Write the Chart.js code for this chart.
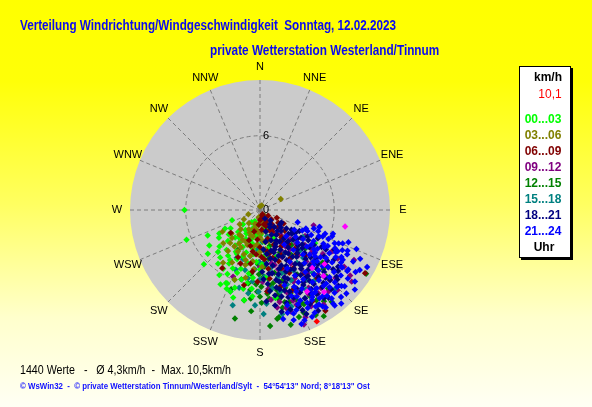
<!DOCTYPE html>
<html><head><meta charset="utf-8">
<script src="https://cdn.jsdelivr.net/npm/chart.js@4"></script>
<style>
html,body{margin:0;padding:0;width:592px;height:407px;overflow:hidden;background:#ffff00;}
#wrap{position:relative;width:592px;height:407px;}
canvas{position:absolute;left:0;top:0;}
.t{position:absolute;white-space:nowrap;font-family:"Liberation Sans",Arial,sans-serif;line-height:1;}
.fit{transform-origin:0 50%;}
.c{transform:translate(-50%,-50%);}
#t1,#t2{font-weight:bold;font-size:14px;color:#0a0af0;}
#legend{position:absolute;left:519px;top:66px;width:50px;height:190px;background:#fff;border:1px solid #000;box-shadow:2px 2px 0 #000;}
.lg{font-weight:bold;font-size:12px;}
#stats{font-size:13px;color:#000;}
#foot{font-size:9px;font-weight:bold;color:#1010ff;}
</style></head>
<body><div id="wrap">
<canvas id="c" width="592" height="407"></canvas>
<div id="t1" class="t fit" style="left:20px;top:25px;">Verteilung Windrichtung/Windgeschwindigkeit&nbsp; Sonntag, 12.02.2023</div>
<div id="t2" class="t fit" style="left:210px;top:50px;">private Wetterstation Westerland/Tinnum</div>
<div id="legend"></div>
<div id="stats" class="t fit" style="left:20px;top:369px;">1440 Werte &nbsp; - &nbsp; Ø 4,3km/h &nbsp;- &nbsp;Max. 10,5km/h</div>
<div id="foot" class="t fit" style="left:20px;top:386px;">© WsWin32 &nbsp;- &nbsp;© private Wetterstation Tinnum/Westerland/Sylt &nbsp;- &nbsp;54°54'13" Nord; 8°18'13" Ost</div>
</div>
<script>
// ---- axis / labels ----
const directionLabels = ['N','NNE','NE','ENE','E','ESE','SE','SSE','S','SSW','SW','WSW','W','WNW','NW','NNW'];
const ringTicks = [0, 6];
const speedMax = 10.5;
const unitLabel = 'km/h';
const maxLabel = '10,1';
const classLabels = ['00...03','03...06','06...09','09...12','12...15','15...18','18...21','21...24'];
const classColors = ['#00ff00','#808000','#800000','#800080','#008000','#008080','#000080','#0000ff'];

// ---- data: [direction in degrees, speed km/h] per time class ----
const p0003 = [[270,6.1],[248,6.4],[244,4.7],[226,6.3],[212,6.2],[205,6.5],[197,7.4],[204,6.5],[225,4.8],[211,4.7],[232,3.2],[225,2.5],[215,3.5],[210,3.9],[205,5.2],[200,4.0],[195,3.0],[190,2.0],[185,1.2],[200,1.5],[210,2.2],[220,4.2],[218,5.5],[207,5.8],[198,5.0],[193,4.4],[188,3.6],[183,2.8],[178,2.0],[175,1.0],[165,0.8],[170,1.6],[180,0.6],[240,3.8],[235,5.0],[230,5.5],[222,3.0],[216,2.0],[205,3.3],[200,6.0],[192,6.5],[186,5.5],[180,4.8],[176,3.8],[172,2.6],[168,3.2],[160,1.6],[185,7.0],[196,2.4],[205,1.0],[230,1.8],[250,2.4],[155,2.5],[162,4.0],[175,5.5],[208,4.0],[190,5.2],[198,3.6],[121,5.2],[170,7.2],[203,6.9],
  [215,4.5],[210,5.0],[205,4.4],[200,5.4],[195,5.8],[190,6.0],[186,6.4],[198,6.6],[212,5.6],[220,5.0],[228,4.4],[236,4.0],[226,3.6],[218,2.8],[212,3.0],[206,2.6],[198,2.6],[192,2.8],[186,2.2],[181,3.4],[178,4.4],[184,4.2],[190,3.2],[196,1.8],[204,1.8],[214,1.2],[238,2.8],[242,3.2],[200,7.0],[208,6.8],[190,7.4]];
const p0306 = [[62,1.9],[240,3.5],[222,3.6],[207,3.4],[200,6.0],[215,2.6],[210,1.8],[200,1.2],[190,0.6],[195,2.2],[205,2.8],[225,2.2],[230,3.0],[218,4.2],[200,3.8],[190,3.0],[185,1.8],[180,1.0],[170,0.5],[175,2.5],[182,3.6],[195,4.6],[208,4.8],[212,3.2],[220,1.4],[235,2.0],[0,0.3],[20,0.4],[160,0.8],[165,1.8],[172,3.2],[188,4.2],[198,1.6],[240,1.5],[250,1.0],[215,5.2],[192,5.6],[178,4.6],[160,2.6],[150,1.2],[140,0.6],
  [185,2.8],[180,2.2],[175,1.8],[190,1.6],[195,1.2],[200,2.2],[205,2.0],[210,2.8],[215,3.6],[220,2.6],[225,3.2],[200,3.0],[192,3.8],[186,4.8],[180,3.4],[170,1.2],[165,2.6],[208,3.8],[228,4.0],[196,4.2]];
const p0609 = [[232,3.0],[213,5.6],[187,5.0],[121,9.9],[147,9.7],[150,8.5],[160,0.5],[150,1.0],[140,1.5],[135,2.0],[145,2.4],[155,1.8],[165,1.2],[170,2.6],[175,1.6],[180,0.8],[185,2.4],[190,3.4],[178,3.8],[168,3.6],[158,3.0],[150,3.4],[142,2.8],[130,1.2],[125,0.8],[138,4.2],[148,4.6],[160,4.4],[172,4.8],[182,5.8],[195,1.8],[200,2.6],[205,4.2],[155,5.6],[145,6.2],[135,5.2],[128,3.6],[165,6.4],[158,7.0],[140,7.2],[130,6.8],[175,6.6],[192,6.2],[150,0.4],[120,2.2],[115,1.5],
  [150,2.0],[145,1.8],[155,1.2],[160,1.4],[165,2.4],[170,3.4],[175,4.0],[180,3.0],[185,3.6],[190,4.4],[140,3.6],[135,3.0],[130,2.6],[125,1.8],[145,3.2],[155,4.0],[165,4.0],[172,5.6],[160,5.0],[150,5.4],[140,4.6],[185,1.2],[175,0.8],[195,3.0],[200,4.6]];
const p0912 = [[202,5.8],[173,7.3],[178,5.8],[120,6.7],[128,9.4],[159,9.9],[120,4.2],[106,4.5],[119,6.8],[159,8.2],[150,5.0],[145,3.6],[140,4.8],[135,6.0],[130,5.4],[155,6.4],[160,5.8],[165,4.6],[170,5.2],[148,7.4],[142,8.0],[138,7.0],[132,8.2],[152,8.8],[163,8.6],[168,7.6],[158,3.2],[150,2.2],[140,2.6],[134,3.4],[128,4.6],[125,6.2],[145,5.8],[155,4.2],[162,7.0],[136,9.0],[146,9.2],[172,3.6],[180,4.6],[124,8.2],
  [130,7.2],[135,8.0],[140,8.6],[145,8.2],[150,7.8],[155,7.4],[160,7.8],[165,8.2],[170,8.0],[138,5.6],[143,6.4],[148,6.8],[153,6.2],[158,5.2],[163,5.0],[168,4.4],[133,4.0],[127,5.2],[122,7.4],[118,8.6],[174,6.4],[152,3.8],[143,4.0],[157,9.4],[126,9.0]];
const p1215 = [[193,9.0],[190,7.4],[187,6.5],[209,3.7],[171,8.9],[179,7.5],[167,8.1],[165,7.7],[170,8.8],[149,10.0],[125,3.2],[130,6.6],[175,6.8],[180,7.0],[183,6.0],[177,5.4],[172,6.2],[168,7.0],[162,6.6],[158,7.8],[155,8.4],[160,9.2],[165,9.6],[175,9.4],[185,8.2],[188,5.2],[182,4.4],[170,4.0],[160,5.2],[150,6.0],[145,4.4],[140,5.6],[135,7.6],[155,3.8],[165,3.0],[178,3.2],[195,5.8],[200,6.8],[152,7.2],[148,8.6],[142,9.4],[138,3.8],[130,4.8],[121,10.0],
  [170,6.0],[174,7.2],[182,6.6],[186,7.2],[168,7.4],[164,8.4],[160,7.2],[156,8.2],[163,6.0],[167,5.2],[173,5.6],[179,6.2],[189,6.0],[157,9.0],[152,9.6],[145,9.0],[150,8.0],[144,7.2],[139,8.4],[133,7.0],[158,5.4],[176,4.6],[181,5.2],[168,6.6],[162,7.8]];
const p1518 = [[206,4.3],[195,6.5],[183,7.7],[199,4.2],[202,5.2],[137,8.8],[122,4.1],[190,5.6],[185,4.8],[180,5.6],[175,4.2],[170,4.8],[165,5.6],[160,4.0],[155,5.0],[150,4.0],[145,5.2],[140,6.6],[150,7.4],[160,6.4],[170,7.2],[178,8.4],[188,6.8],[192,3.8],[184,3.2],[176,2.6],[165,2.2],[155,2.8],[145,3.0],[135,4.6],[130,3.6],[200,7.0],[196,8.0],[162,8.2],[146,6.8],
  [186,5.8],[181,6.6],[176,7.6],[171,6.4],[166,6.8],[161,5.4],[156,6.2],[151,5.6],[147,4.6],[142,7.2],[158,7.0],[168,8.6],[188,4.2],[194,5.0],[173,3.4],[138,5.2],[133,6.2],[153,8.0],[181,4.2],[176,5.4]];
const p1821 = [[120,2.0],[125,2.6],[130,3.0],[135,2.4],[140,1.8],[145,1.4],[150,1.6],[155,2.2],[160,2.6],[165,3.4],[128,3.8],[133,4.2],[138,3.4],[143,3.8],[148,3.0],[153,3.6],[158,4.0],[163,4.2],[168,4.0],[173,4.4],[122,4.6],[127,5.0],[132,4.6],[137,5.4],[142,4.8],[147,5.2],[152,4.6],[157,5.4],[162,5.0],[167,5.8],[121,5.8],[126,6.4],[131,6.0],[136,6.6],[141,6.2],[146,6.6],[151,6.0],[156,6.8],[161,6.2],[166,6.6],[124,7.2],[129,7.6],[134,7.2],[139,7.8],[144,7.4],[149,7.8],[154,7.4],[159,7.6],[164,7.8],[170,7.0],[132,8.4],[138,8.6],[146,8.2],[152,8.6],[158,8.4],[142,9.0],[128,8.0],[118,6.8],[116,5.2],[118,3.6],[135,1.2],[150,0.8],[165,1.8],[170,2.6],[175,3.2],[172,5.2],[178,5.0],[174,6.0],[168,8.4],[150,9.4],[126,2.0],[140,3.0],[155,3.0],[147,4.2],[137,4.4],[133,5.6],[145,5.8],[155,5.0],[160,5.8],[150,5.5],[140,6.8],[130,6.9],[160,7.0],[150,7.0],[135,8.0],[145,7.0],[165,6.0],[123,3.4],
  [122,3.0],[127,3.2],[132,3.6],[137,3.0],[142,3.4],[147,2.4],[152,2.8],[157,3.2],[162,3.6],[167,4.6],[124,4.0],[129,4.4],[134,5.0],[139,4.6],[144,5.4],[149,4.0],[154,4.2],[159,4.8],[164,5.4],[169,5.2],[123,5.2],[128,5.6],[138,6.0],[143,5.6],[148,6.2],[153,5.4],[158,6.0],[163,6.8],[168,6.4],[173,6.6],[127,6.8],[133,6.4],[139,7.2],[144,6.6],[149,6.8],[155,7.0],[162,7.4],[166,7.2],[171,7.8],[126,7.8],[131,8.2],[136,7.6],[141,8.0],[147,7.6],[153,8.0],[157,8.8],[163,8.4],[144,8.8],[149,9.0],[134,8.8],[156,9.2],[176,7.4],[177,5.6],[171,3.6],[119,4.4],[121,6.2],[140,2.2],[130,2.2],[160,3.4],[145,4.6]];
const p2124 = [[106,5.0],[110,5.0],[113,5.5],[113,6.9],[115,7.8],[117,7.9],[118,7.1],[121,9.4],[125,8.1],[125,8.0],[147,9.3],[163,9.3],[134,9.7],[135,8.8],[108,3.2],[112,4.0],[116,4.6],[120,5.0],[124,5.6],[128,6.2],[132,6.8],[136,7.4],[140,8.0],[144,8.6],[148,9.0],[152,9.4],[110,6.2],[114,6.6],[118,5.8],[122,6.6],[126,7.2],[130,7.8],[134,8.4],[138,9.0],[142,9.6],[146,8.0],[150,8.4],[154,8.8],[120,7.6],[124,8.6],[128,9.0],[132,9.2],[136,6.2],[140,6.8],[144,7.2],[148,7.6],[152,7.2],[156,8.0],[160,8.6],[158,9.6],[116,3.8],[120,3.2],[124,4.2],[128,4.8],[132,5.4],[136,5.0],[140,5.6],[144,6.2],[148,6.6],[152,6.0],[156,6.8],[160,7.4],[112,8.4],[116,9.0],[108,6.2],[110,5.6],[106,5.0],[118,9.8],[130,10.0],[140,4.2],[145,3.4],[135,3.0],[164,8.0],[168,9.0],[162,6.4],[155,5.2],[150,4.8],[142,9.8],[127,3.6],[131,4.0],[119,7.0],[123,7.8],[138,8.0],[146,9.5],
  [114,5.2],[118,6.2],[122,7.2],[126,6.6],[130,7.2],[134,7.8],[138,8.4],[142,8.8],[146,8.6],[150,9.0],[154,9.6],[158,8.2],[162,8.8],[113,6.0],[117,6.8],[121,7.8],[125,8.6],[129,8.4],[133,9.0],[137,9.6],[141,9.2],[145,7.8],[149,8.2],[153,8.4],[157,7.6],[124,5.0],[128,5.6],[132,6.2],[136,6.8],[140,7.4],[144,7.8],[148,8.0],[120,6.0],[116,7.4],[112,7.2],[110,7.6],[109,4.6],[114,4.2],[119,8.6],[123,9.2],[127,9.6],[139,10.0],[160,9.8],[165,8.6],[152,6.6],[156,7.2],[134,6.0],[130,5.8],[126,5.4]];
const pMagenta = [[101,7.0],[138,6.3],[136,7.4],[150,7.6],[130,6.8],[142,8.4]];
const pMax = [[153,10.1]];

function toXY(list){
  return list.map(([d,s]) => ({x: s*Math.sin(d*Math.PI/180), y: s*Math.cos(d*Math.PI/180)}));
}

// ---- legend (HTML) ----
const lg = document.getElementById('legend');
function addLeg(text, cx, cy, color, bold){
  const s = document.createElement('div');
  s.className = 't lg c';
  s.style.left = (cx-519)+'px'; s.style.top = (cy-66)+'px';
  s.style.color = color;
  if(!bold) s.style.fontWeight = 'normal';
  s.textContent = text;
  lg.appendChild(s);
}
addLeg(unitLabel, 547, 76, '#000', true);
addLeg(maxLabel, 549, 93, '#ff0000', false);
classLabels.forEach((l,i)=>addLeg(l, 542, 118+16*i, classColors[i], true));
addLeg('Uhr', 543, 246, '#000', true);

// ---- polar grid plugin ----
const polarPlugin = {
  id:'polar',
  beforeDraw(chart){
    const c = chart.ctx, W = chart.width, H = chart.height;
    const g = c.createLinearGradient(0,0,0,H);
    g.addColorStop(0,'#ffff00'); g.addColorStop(0.2,'#ffff08');
    g.addColorStop(0.5,'#ffff60'); g.addColorStop(0.78,'#ffffcc'); g.addColorStop(1,'#fffff4');
    c.save(); c.fillStyle = g; c.fillRect(0,0,W,H); c.restore();
  },
  beforeDatasetsDraw(chart){
    const c = chart.ctx, xs = chart.scales.x, ys = chart.scales.y;
    const cx = xs.getPixelForValue(0), cy = ys.getPixelForValue(0);
    const R = xs.getPixelForValue(speedMax) - cx;
    c.save();
    c.fillStyle = '#cbcbcb';
    c.beginPath(); c.arc(cx,cy,R,0,Math.PI*2); c.fill();
    c.strokeStyle = '#7c7c7c'; c.lineWidth = 1; c.setLineDash([4,3]);
    directionLabels.forEach((l,i)=>{
      const a = i*22.5*Math.PI/180;
      c.beginPath();
      c.moveTo(cx, cy);
      c.lineTo(xs.getPixelForValue(speedMax*Math.sin(a)), ys.getPixelForValue(speedMax*Math.cos(a)));
      c.stroke();
    });
    ringTicks.forEach(t=>{
      if(t<=0) return;
      const r = xs.getPixelForValue(t)-cx;
      c.beginPath(); c.arc(cx,cy,r,0,Math.PI*2); c.stroke();
    });
    c.setLineDash([]);
    c.font = '11px "Liberation Sans", Arial, sans-serif';
    c.textAlign = 'center'; c.textBaseline = 'middle'; c.fillStyle = '#000';
    ringTicks.forEach(t=>{
      c.fillText(String(t), cx+6, ys.getPixelForValue(t));
    });
    const LR = speedMax*1.1;
    directionLabels.forEach((l,i)=>{
      const a = i*22.5*Math.PI/180;
      c.fillText(l, xs.getPixelForValue(LR*Math.sin(a)), ys.getPixelForValue(LR*Math.cos(a)));
    });
    c.restore();
  }
};

// drawing order: first dataset is drawn on top
const groups = [p0003,p0306,p0609,p0912,p1215,p1518,p1821,p2124];
const stackOrder = [7,6,2,1,0,5,3,4];
const datasets = [];
datasets.push({label:'max', data:toXY(pMax), backgroundColor:'#ff0000', borderColor:'#ff0000'});
datasets.push({label:'mag', data:toXY(pMagenta), backgroundColor:'#ff00ff', borderColor:'#ff00ff'});
stackOrder.forEach(i=>{
  datasets.push({label:classLabels[i], data:toXY(groups[i]), backgroundColor:classColors[i], borderColor:classColors[i]});
});

new Chart(document.getElementById('c'), {
  type:'scatter',
  data:{datasets},
  options:{
    responsive:false, animation:false, devicePixelRatio:1,
    events:[],
    layout:{padding:{left:130,top:80,right:202,bottom:67}},
    elements:{point:{pointStyle:'rectRot', radius:3.2, borderWidth:0, hoverRadius:3.2}},
    scales:{
      x:{type:'linear', min:-speedMax, max:speedMax, display:false},
      y:{type:'linear', min:-speedMax, max:speedMax, display:false}
    },
    plugins:{legend:{display:false}, tooltip:{enabled:false}}
  },
  plugins:[polarPlugin]
});

// fit text widths to reference
function fit(id, w){
  const e = document.getElementById(id);
  const k = w / e.offsetWidth;
  e.style.transform = 'translateY(-50%) scaleX('+k+')';
}
fit('t1',376); fit('t2',229); fit('stats',211); fit('foot',350);
</script>
</body></html>
